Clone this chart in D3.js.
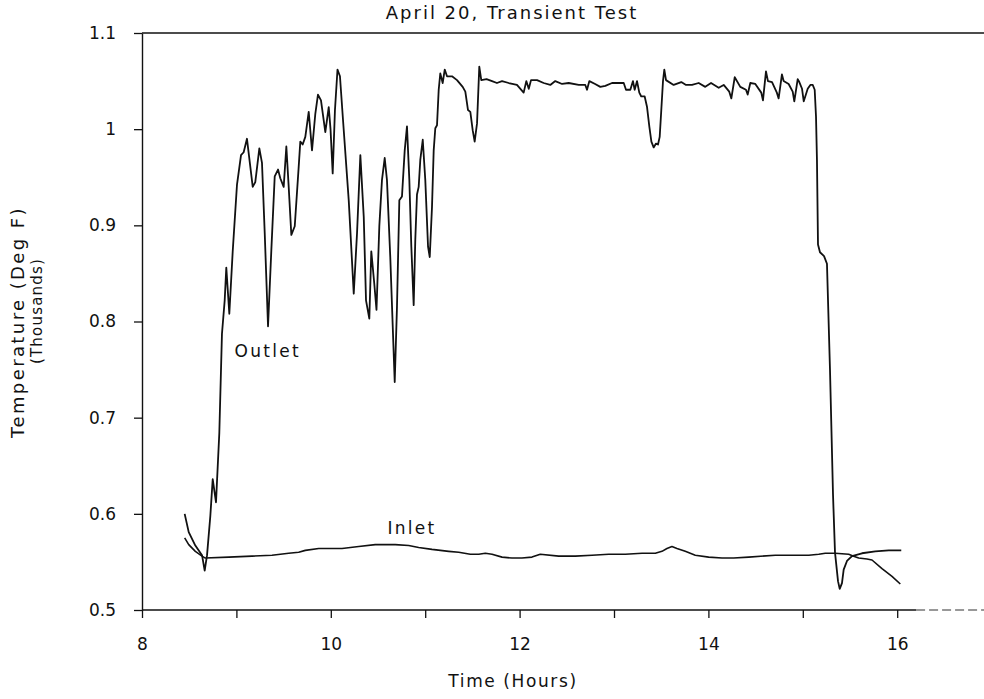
<!DOCTYPE html>
<html><head><meta charset="utf-8">
<script src="https://cdn.jsdelivr.net/npm/d3@7/dist/d3.min.js"></script>
<style>
body{margin:0;background:#fff;}
svg{display:block;}
text{font-family:"DejaVu Sans",sans-serif;fill:#111;}
</style></head><body>
<svg id="chart" width="984" height="699"></svg>
<script>
const title = "April 20, Transient Test";
const xLabel = "Time (Hours)";
const yLabel1 = "Temperature (Deg F)";
const yLabel2 = "(Thousands)";
const xTicks = [8, 9, 10, 11, 12, 13, 14, 15, 16];
const xTickLabels = ["8", "", "10", "", "12", "", "14", "", "16"];
const yTicks = [0.5, 0.6, 0.7, 0.8, 0.9, 1.0, 1.1];
const yTickLabels = ["0.5", "0.6", "0.7", "0.8", "0.9", "1", "1.1"];
const seriesNames = ["Outlet", "Inlet"];

const outletTime = [8.452,8.495,8.565,8.636,8.664,8.689,8.724,8.749,8.784,8.819,8.847,8.876,8.893,8.925,8.961,9.006,9.049,9.077,9.112,9.173,9.200,9.243,9.271,9.300,9.335,9.370,9.406,9.441,9.465,9.501,9.529,9.554,9.582,9.618,9.660,9.677,9.702,9.730,9.766,9.801,9.836,9.864,9.896,9.942,9.978,9.997,10.020,10.044,10.071,10.097,10.129,10.190,10.243,10.278,10.313,10.349,10.373,10.408,10.429,10.460,10.484,10.514,10.542,10.571,10.595,10.630,10.656,10.677,10.701,10.726,10.754,10.783,10.807,10.832,10.853,10.878,10.895,10.913,10.931,10.948,10.974,11.001,11.030,11.048,11.072,11.090,11.107,11.125,11.143,11.160,11.185,11.207,11.231,11.284,11.337,11.397,11.425,11.453,11.478,11.503,11.524,11.549,11.573,11.594,11.650,11.708,11.760,11.814,11.885,11.972,12.043,12.071,12.097,12.121,12.185,12.255,12.325,12.378,12.450,12.520,12.626,12.696,12.714,12.739,12.800,12.855,12.908,12.979,13.050,13.103,13.127,13.173,13.201,13.219,13.244,13.268,13.289,13.325,13.350,13.374,13.396,13.420,13.445,13.466,13.484,13.501,13.519,13.533,13.551,13.632,13.713,13.763,13.826,13.897,13.967,14.028,14.109,14.162,14.221,14.243,14.279,14.338,14.398,14.416,14.444,14.497,14.560,14.578,14.610,14.631,14.674,14.725,14.744,14.779,14.797,14.850,14.893,14.910,14.946,14.963,14.992,15.010,15.052,15.080,15.105,15.126,15.140,15.150,15.161,15.182,15.225,15.256,15.288,15.320,15.341,15.373,15.391,15.415,15.433,15.468,15.521,15.627,15.768,15.910,16.043];
const outletTemp = [0.600,0.581,0.567,0.557,0.541,0.557,0.598,0.636,0.612,0.684,0.787,0.822,0.856,0.808,0.873,0.942,0.973,0.976,0.990,0.940,0.945,0.980,0.965,0.892,0.795,0.874,0.951,0.958,0.949,0.940,0.982,0.940,0.890,0.899,0.961,0.987,0.984,0.992,1.018,0.978,1.016,1.036,1.030,0.997,1.023,1.000,0.954,1.020,1.062,1.055,1.010,0.926,0.829,0.892,0.973,0.909,0.822,0.803,0.873,0.840,0.812,0.899,0.947,0.970,0.947,0.867,0.795,0.737,0.815,0.926,0.930,0.978,1.003,0.947,0.878,0.817,0.885,0.932,0.940,0.968,0.989,0.947,0.878,0.867,0.919,0.978,1.001,1.004,1.041,1.058,1.048,1.062,1.055,1.055,1.051,1.044,1.039,1.020,1.018,0.999,0.987,1.006,1.065,1.051,1.052,1.050,1.048,1.050,1.048,1.046,1.038,1.050,1.042,1.051,1.051,1.048,1.046,1.050,1.047,1.048,1.046,1.046,1.041,1.050,1.047,1.044,1.045,1.048,1.048,1.048,1.041,1.041,1.050,1.041,1.050,1.038,1.034,1.034,1.023,1.003,0.987,0.981,0.985,0.984,0.992,1.020,1.050,1.062,1.051,1.046,1.049,1.046,1.046,1.048,1.044,1.048,1.043,1.046,1.039,1.032,1.054,1.044,1.041,1.036,1.048,1.047,1.038,1.030,1.060,1.050,1.049,1.038,1.032,1.057,1.050,1.047,1.039,1.029,1.052,1.049,1.042,1.029,1.042,1.046,1.046,1.041,1.013,0.968,0.880,0.872,0.868,0.860,0.750,0.620,0.560,0.530,0.522,0.528,0.542,0.551,0.556,0.559,0.561,0.562,0.562];

const inletTime = [8.452,8.495,8.565,8.636,8.671,8.918,9.165,9.377,9.554,9.660,9.730,9.872,10.119,10.296,10.471,10.577,10.683,10.825,10.931,11.072,11.249,11.355,11.478,11.567,11.637,11.708,11.814,11.919,12.025,12.131,12.219,12.414,12.590,12.767,12.944,13.120,13.297,13.438,13.508,13.561,13.614,13.667,13.755,13.861,14.003,14.144,14.268,14.427,14.709,14.921,15.063,15.169,15.238,15.344,15.486,15.539,15.592,15.680,15.733,15.839,15.945,16.033];
const inletTemp = [0.575,0.568,0.561,0.556,0.554,0.555,0.556,0.557,0.559,0.560,0.562,0.564,0.564,0.566,0.568,0.568,0.568,0.567,0.565,0.563,0.561,0.560,0.558,0.558,0.559,0.558,0.555,0.554,0.554,0.555,0.558,0.556,0.556,0.557,0.558,0.558,0.559,0.559,0.561,0.564,0.566,0.564,0.561,0.557,0.555,0.554,0.554,0.555,0.557,0.557,0.557,0.558,0.559,0.559,0.558,0.556,0.554,0.553,0.552,0.543,0.535,0.527];

const W = 984, H = 699;
const FONT = "'DejaVu Sans',sans-serif";
const svg = d3.select("#chart");
const x = d3.scaleLinear().domain([8, 17]).range([142, 142 + 9 * 94.4]);
const y = d3.scaleLinear().domain([0.5, 1.1]).range([610, 33]);

svg.append("defs").append("clipPath").attr("id", "clip")
  .append("rect").attr("x", x(8)).attr("y", y(1.1) - 5).attr("width", W - x(8)).attr("height", y(0.5) - y(1.1) + 10);

// top border
svg.append("line").attr("x1", x(8)).attr("x2", W).attr("y1", y(1.1)).attr("y2", y(1.1))
  .attr("stroke", "#111").attr("stroke-width", 1.4);

// x axis
const xAxis = d3.axisBottom(x).tickValues(xTicks).tickSize(8).tickSizeOuter(0).tickPadding(20)
  .tickFormat((d, i) => xTickLabels[i]);
const gx = svg.append("g").attr("transform", `translate(0,${y(0.5)})`).call(xAxis);
gx.selectAll("text").style("font-size", "17px").style("font-family", FONT).attr("fill", "#111");
gx.select(".domain").remove();
gx.selectAll(".tick line").attr("stroke", "#111").attr("stroke-width", 1.3);
// baseline: solid part, then the faded dashed tail seen in the scan
svg.append("line").attr("x1", x(8)).attr("x2", x(16.2)).attr("y1", y(0.5)).attr("y2", y(0.5))
  .attr("stroke", "#111").attr("stroke-width", 1.4);
svg.append("line").attr("x1", x(16.2)).attr("x2", W).attr("y1", y(0.5)).attr("y2", y(0.5))
  .attr("stroke", "#333").attr("stroke-width", 1.2).attr("stroke-dasharray", "9,4");

// y axis
const yAxis = d3.axisLeft(y).tickValues(yTicks).tickSize(8).tickSizeOuter(0).tickPadding(18)
  .tickFormat((d, i) => yTickLabels[i]);
const gy = svg.append("g").attr("transform", `translate(${x(8)},0)`).call(yAxis);
gy.selectAll("text").style("font-size", "17px").style("font-family", FONT).attr("fill", "#111");
gy.select(".domain").attr("stroke", "#111").attr("stroke-width", 1.4);
gy.selectAll(".tick line").attr("stroke", "#111").attr("stroke-width", 1.3);

const line = d3.line().x(d => x(d[0])).y(d => y(d[1]));
const outlet = outletTime.map((t, i) => [t, outletTemp[i]]);
const inlet = inletTime.map((t, i) => [t, inletTemp[i]]);

const plot = svg.append("g").attr("clip-path", "url(#clip)");
plot.append("path").datum(inlet).attr("d", line).attr("fill", "none").attr("stroke", "#111").attr("stroke-width", 1.6).attr("stroke-linejoin", "round");
plot.append("path").datum(outlet).attr("d", line).attr("fill", "none").attr("stroke", "#111").attr("stroke-width", 1.8).attr("stroke-linejoin", "round");

// series labels
svg.append("text").attr("x", x(8.98)).attr("y", y(0.763)).text(seriesNames[0])
  .style("font-size", "17px").attr("letter-spacing", "2.3px");
svg.append("text").attr("x", x(10.6)).attr("y", y(0.579)).text(seriesNames[1])
  .style("font-size", "17px").attr("letter-spacing", "2.3px");

// titles
svg.append("text").attr("x", 512).attr("y", 19).attr("text-anchor", "middle").text(title)
  .style("font-size", "18px").attr("letter-spacing", "2px");
svg.append("text").attr("x", 513).attr("y", 687).attr("text-anchor", "middle").text(xLabel)
  .style("font-size", "17px").attr("letter-spacing", "1.6px");
svg.append("text").attr("transform", "translate(24,322) rotate(-90)").attr("text-anchor", "middle").text(yLabel1)
  .style("font-size", "18px").attr("letter-spacing", "2.4px");
svg.append("text").attr("transform", "translate(42,311) rotate(-90)").attr("text-anchor", "middle").text(yLabel2)
  .style("font-size", "15px").attr("letter-spacing", "1.2px");
</script>
</body></html>
